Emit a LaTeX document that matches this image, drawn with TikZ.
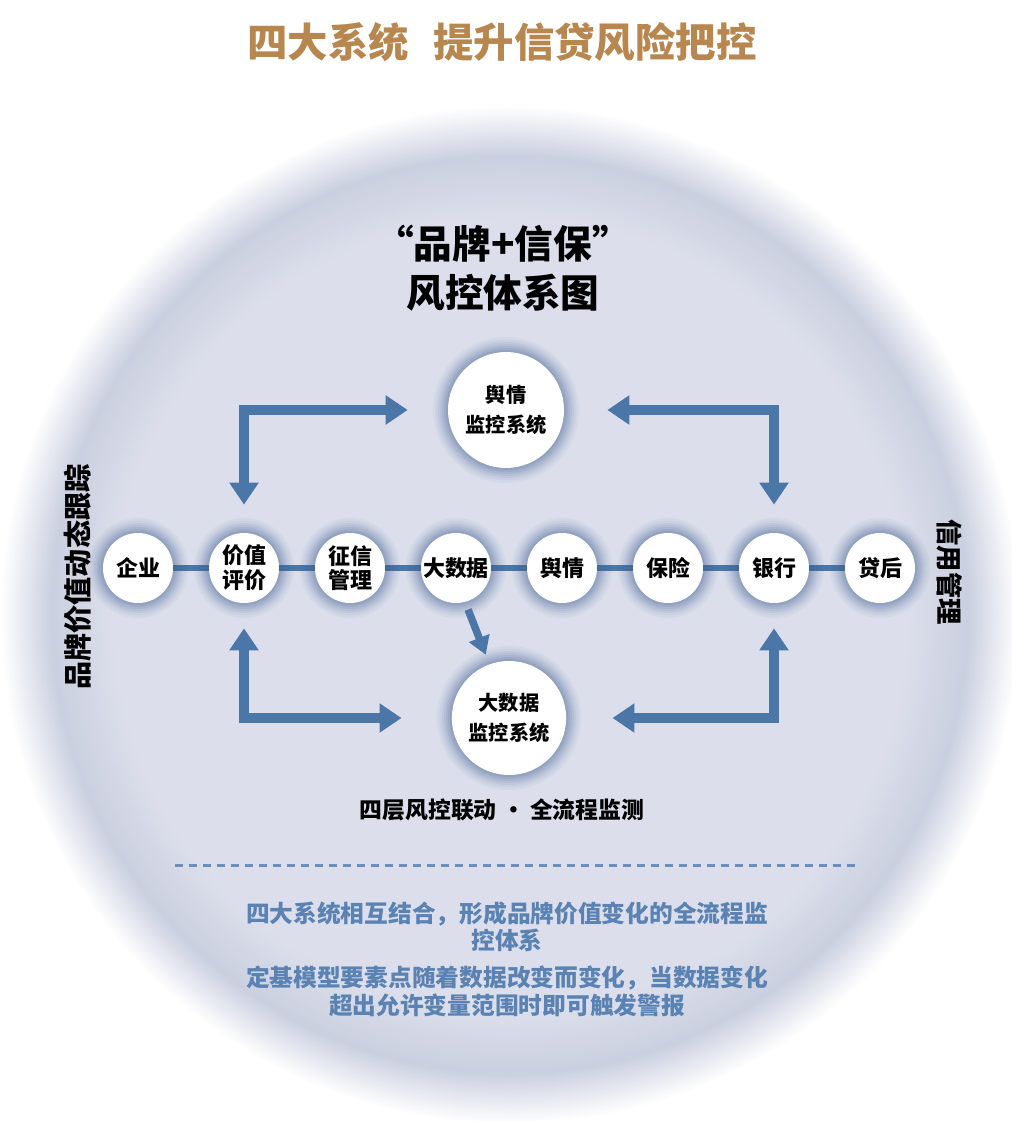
\documentclass[tikz,border=0pt]{standalone}
\usepackage{fontspec}
\setmainfont{Noto Sans CJK SC}
\usepackage{tikz}
\usetikzlibrary{
	arrows.meta,
	positioning,
	calc,
	shapes.geometric
}
\definecolor{titlebrown}{HTML}{B8874F}
\definecolor{arrowblue}{HTML}{4A76A8}
\definecolor{textblue}{HTML}{5A82B3}
\definecolor{glowblue}{HTML}{3C5C92}
\definecolor{discfill}{HTML}{DCDFEB}
\definecolor{discrim}{HTML}{CBD0E0}
\pgfdeclarelayer{bg}
\pgfsetlayers{bg,main}

\begin{document}
\begin{tikzpicture}[
		x=0.02cm, y=-0.02cm,
		glow/.style={
			preaction={draw=glowblue, opacity=.05, line width=0.60cm},
			preaction={draw=glowblue, opacity=.06, line width=0.50cm},
			preaction={draw=glowblue, opacity=.07, line width=0.40cm},
			preaction={draw=glowblue, opacity=.08, line width=0.32cm},
			preaction={draw=glowblue, opacity=.09, line width=0.24cm},
			preaction={draw=glowblue, opacity=.10, line width=0.16cm},
			preaction={draw=glowblue, opacity=.12, line width=0.08cm}
		},
		dot/.style={
			circle,
			fill=white,
			minimum size=1.4cm,
			inner sep=0pt,
			align=center,
			font=\bfseries\fontsize{12.5}{14}\selectfont
		},
		sys/.style={
			circle,
			fill=white,
			minimum size=2.32cm,
			inner sep=0pt,
			align=center,
			font=\bfseries\fontsize{11.5}{17.5}\selectfont
		},
		bigarrow/.style={
			draw=arrowblue,
			line width=0.2cm,
			line join=miter,
			{Triangle[width=0.56cm,length=0.44cm]}-{Triangle[width=0.56cm,length=0.44cm]}
		},
		smallarrow/.style={
			draw=arrowblue,
			line width=0.15cm,
			-{Triangle[width=0.42cm,length=0.36cm]}
		},
		chain/.style={
			draw=arrowblue,
			line width=0.12cm
		}
		]
		
		\useasboundingbox (0,0) rectangle (1011,1121);
		
		% Background disc
		\begin{pgfonlayer}{bg}
		\fill[white] (0,0) rectangle (1011,1121);
		\foreach \k [evaluate=\k as \pc using int(\k*4)] in {0,...,25}
		\fill[discrim!\pc!white] (510,615) circle ({510-2*\k});
		\foreach \k [evaluate=\k as \pc using int(\k*5)] in {0,...,20}
		\fill[discfill!\pc!discrim] (510,615) circle ({458-3*\k});
		\end{pgfonlayer}
		
		% Title
		\node[font=\bfseries\fontsize{23}{26}\selectfont, text=titlebrown] (title) at (502,42) {四大系统\hspace{0.6em}提升信贷风险把控};
		
		\node[font=\bfseries\fontsize{22}{28}\selectfont, align=center] (head) at (503,268) {“品牌+信保”\\风控体系图};
		
		% Chain of circles
		\foreach \name/\txt [count=\i from 0] in {qy/企业, jzpj/{价值\\评价}, zxgl/{征信\\管理}, dsj/大数据, yq/舆情, bx/保险, yh/银行, dh/贷后}
		\node[dot, glow] (\name) at (138+106*\i,568) {\txt};
		
		\begin{pgfonlayer}{bg}
		\draw[chain] (qy) -- (dh);
		\end{pgfonlayer}
		
		% Monitoring systems
		\node[sys, glow] (yqsys) at (506,410) {舆情\\监控系统};
		\node[sys, ellipse, glow, minimum width=2.08cm, minimum height=2.28cm] (dsjsys) at (509,718) {大数据\\监控系统};
		
		% Arrows
		\draw[bigarrow, shorten <=0.56cm, shorten >=0.8cm] (jzpj) |- (yqsys);
		\draw[bigarrow, shorten <=0.56cm, shorten >=0.86cm] (yh) |- (yqsys);
		\draw[bigarrow, shorten <=0.5cm, shorten >=1.0cm] (jzpj) |- (dsjsys);
		\draw[bigarrow, shorten <=0.5cm, shorten >=0.92cm] (yh) |- (dsjsys);
		\draw[smallarrow, shorten <=0.16cm, shorten >=0.2cm] (dsj.-75) -- (dsjsys.110);
		
		% Side labels
		\node[rotate=90, font=\bfseries\fontsize{16}{18}\selectfont] (track) at (78,577) {品牌价值动态跟踪};
		\node[rotate=-90, font=\bfseries\fontsize{15}{18}\selectfont] (credit) at (950,572) {信用管理};
		
		\node[font=\bfseries\fontsize{13}{15}\selectfont] (flow) at (502,810) {四层风控联动 · 全流程监测};
		
		% Notes
		\coordinate (dl) at (175,865);
		\coordinate (dr) at (855,865);
		\draw[textblue!90, line width=0.06cm, dash pattern=on 0.16cm off 0.12cm] (dl) -- (dr);
		
		\node[font=\bfseries\fontsize{13.5}{15.4}\selectfont, text=textblue, align=center] (note1) at (507,927) {四大系统相互结合，形成品牌价值变化的全流程监\\控体系};
		\node[font=\bfseries\fontsize{13.5}{15.8}\selectfont, text=textblue, align=center] (note2) at (507,991) {定基模型要素点随着数据改变而变化，当数据变化\\超出允许变量范围时即可触发警报};
		
	\end{tikzpicture}
\end{document}
